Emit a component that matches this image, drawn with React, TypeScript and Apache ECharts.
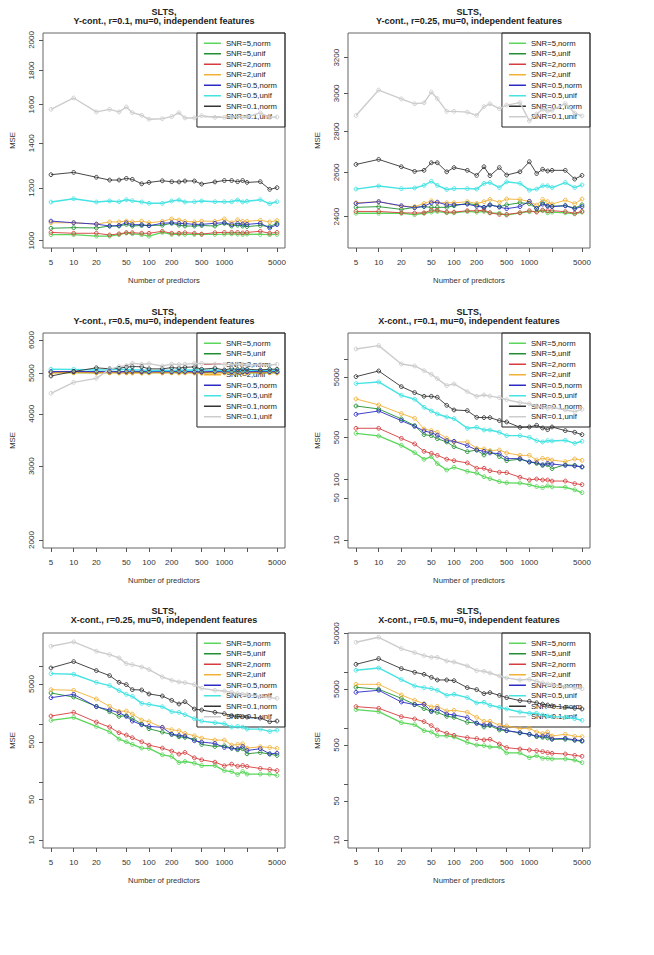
import React, { useEffect, useRef } from "react";
import * as echarts from "echarts";

// ---------- shared data ----------
const predictors = [5, 10, 20, 30, 40, 50, 60, 80, 100, 150, 200, 250, 300, 400, 500, 750, 1000, 1250, 1500, 1750, 2000, 3000, 4000, 5000];
const seriesNames = ["SNR=5,norm", "SNR=5,unif", "SNR=2,norm", "SNR=2,unif", "SNR=0.5,norm", "SNR=0.5,unif", "SNR=0.1,norm", "SNR=0.1,unif"];
const seriesColors = ["#5ad65a", "#1f8f2f", "#d63c3c", "#f2b134", "#2b2bc4", "#45e3e3", "#333333", "#cccccc"];
const lineWidths = [1.3, 0.9, 0.9, 0.9, 0.9, 1.4, 0.9, 1.4];

const xTicks = [5, 10, 20, 50, 100, 200, 500, 1000, 2000, 5000];
const xTickLabels = [5, 10, 20, 50, 100, 200, 500, 1000, 5000];

// ---------- panel 1: Y-cont., r=0.1 ----------
const p1Ticks = [1000, 1200, 1400, 1600, 1800, 2000];
const p1Labels = [1000, 1200, 1400, 1600, 1800, 2000];
const p1_snr5norm = [1021, 1021, 1016, 1016, 1021, 1027, 1024, 1021, 1016, 1029, 1022, 1023, 1022, 1022, 1022, 1022, 1023, 1024, 1023, 1022, 1023, 1022, 1021, 1022];
const p1_snr5unif = [1044, 1046, 1045, 1052, 1052, 1058, 1052, 1054, 1054, 1055, 1062, 1055, 1052, 1052, 1054, 1052, 1062, 1052, 1055, 1052, 1050, 1054, 1050, 1062];
const p1_snr2norm = [1029, 1026, 1026, 1020, 1024, 1028, 1028, 1026, 1026, 1033, 1026, 1026, 1028, 1026, 1023, 1028, 1029, 1029, 1029, 1027, 1029, 1033, 1026, 1029];
const p1_snr2unif = [1064, 1064, 1059, 1067, 1067, 1070, 1067, 1070, 1064, 1069, 1078, 1074, 1069, 1067, 1070, 1069, 1078, 1064, 1075, 1069, 1069, 1073, 1067, 1072];
const p1_snr05norm = [1070, 1064, 1059, 1052, 1054, 1064, 1057, 1057, 1053, 1062, 1064, 1062, 1061, 1058, 1058, 1062, 1064, 1057, 1061, 1059, 1058, 1062, 1045, 1057];
const p1_snr05unif = [1143, 1156, 1143, 1147, 1144, 1152, 1148, 1143, 1138, 1138, 1147, 1151, 1143, 1144, 1147, 1144, 1144, 1144, 1151, 1143, 1146, 1152, 1136, 1144];
const p1_snr01norm = [1256, 1266, 1245, 1233, 1233, 1240, 1236, 1217, 1223, 1230, 1226, 1225, 1229, 1229, 1216, 1225, 1231, 1231, 1226, 1231, 1223, 1226, 1194, 1201];
const p1_snr01unif = [1574, 1637, 1560, 1574, 1560, 1587, 1556, 1542, 1521, 1524, 1535, 1556, 1528, 1528, 1540, 1531, 1531, 1531, 1535, 1531, 1533, 1555, 1531, 1533];

// ---------- panel 2: Y-cont., r=0.25 ----------
const p2Ticks = [2400, 2600, 2800, 3000, 3200];
const p2Labels = [2400, 2600, 2800, 3000, 3200];
const p2_snr5norm = [2415, 2415, 2415, 2409, 2415, 2420, 2423, 2417, 2417, 2423, 2420, 2423, 2417, 2415, 2407, 2417, 2422, 2423, 2426, 2417, 2420, 2417, 2412, 2420];
const p2_snr5unif = [2441, 2444, 2432, 2441, 2444, 2441, 2441, 2441, 2448, 2458, 2452, 2441, 2451, 2444, 2452, 2461, 2457, 2436, 2461, 2448, 2446, 2448, 2438, 2452];
const p2_snr2norm = [2423, 2423, 2417, 2416, 2417, 2428, 2428, 2420, 2420, 2426, 2426, 2428, 2417, 2410, 2410, 2417, 2426, 2420, 2429, 2426, 2426, 2422, 2415, 2423];
const p2_snr2unif = [2461, 2466, 2446, 2444, 2458, 2470, 2461, 2461, 2461, 2466, 2458, 2466, 2476, 2464, 2478, 2476, 2466, 2451, 2476, 2466, 2455, 2473, 2457, 2478];
const p2_snr05norm = [2458, 2466, 2448, 2439, 2446, 2461, 2464, 2452, 2452, 2455, 2446, 2441, 2452, 2442, 2435, 2444, 2468, 2436, 2455, 2446, 2444, 2448, 2435, 2444];
const p2_snr05unif = [2523, 2537, 2525, 2528, 2540, 2559, 2540, 2521, 2525, 2525, 2523, 2549, 2553, 2530, 2556, 2549, 2518, 2523, 2538, 2538, 2530, 2553, 2530, 2542];
const p2_snr01norm = [2638, 2662, 2627, 2605, 2610, 2646, 2646, 2603, 2623, 2610, 2586, 2627, 2585, 2623, 2588, 2603, 2651, 2595, 2615, 2607, 2610, 2610, 2569, 2586];
const p2_snr01unif = [2882, 3018, 2970, 2944, 2949, 3007, 2972, 2904, 2904, 2900, 2883, 2929, 2944, 2918, 2937, 2950, 2854, 2890, 2915, 2905, 2910, 2945, 2895, 2880];

// ---------- panel 3: Y-cont., r=0.5 ----------
const p3Ticks = [2000, 3000, 4000, 5000, 6000];
const p3Labels = [2000, 3000, 4000, 5000, 6000];
const p3_snr5norm = [5015, 5015, 5010, 5020, 5015, 5015, 5020, 5015, 5010, 5020, 5015, 5020, 5015, 5015, 5010, 5015, 5015, 5010, 5015, 5010, 5015, 5010, 5015, 5010];
const p3_snr5unif = [5030, 5040, 5035, 5025, 5030, 5040, 5035, 5030, 5025, 5035, 5030, 5040, 5035, 5030, 5025, 5030, 5035, 5030, 5025, 5035, 5030, 5025, 5030, 5035];
const p3_snr2norm = [5025, 5030, 5020, 5025, 5030, 5020, 5025, 5030, 5025, 5020, 5025, 5030, 5025, 5020, 5025, 5030, 5020, 5025, 5030, 5025, 5020, 5025, 5030, 5025];
const p3_snr2unif = [5005, 5010, 5005, 5010, 5005, 5010, 5005, 5000, 5010, 5005, 5010, 5005, 5010, 5005, 5000, 5005, 5010, 5005, 5010, 5005, 5010, 5005, 5010, 5005];
const p3_snr05norm = [5045, 5050, 5045, 5055, 5040, 5050, 5060, 5045, 5040, 5050, 5045, 5055, 5050, 5040, 5035, 5050, 5045, 5040, 5055, 5045, 5040, 5050, 5045, 5040];
const p3_snr05unif = [5110, 5105, 5090, 5100, 5110, 5100, 5095, 5090, 5070, 5080, 5075, 5085, 5080, 5090, 5085, 5080, 5070, 5075, 5080, 5070, 5085, 5080, 5075, 5080];
const p3_snr01norm = [4924, 5046, 5150, 5120, 5138, 5170, 5185, 5180, 5120, 5120, 5155, 5140, 5165, 5175, 5110, 5140, 5090, 5130, 5100, 5120, 5110, 5090, 5110, 5110];
const p3_snr01unif = [4477, 4755, 4861, 5110, 5185, 5210, 5280, 5250, 5270, 5200, 5255, 5245, 5255, 5275, 5275, 5255, 5250, 5240, 5250, 5240, 5230, 5245, 5230, 5250];

// ---------- panel 4: X-cont., r=0.1 ----------
const p4Ticks = [10, 50, 100, 500, 1000, 5000, 10000];
const p4Labels = [10, 50, 100, 500, 5000];
const p4_snr5norm = [589, 532, 372, 281, 218, 241, 185, 145, 161, 138, 129, 112, 104, 93, 89, 88, 83, 77, 74, 79, 76, 75, 68, 61];
const p4_snr5unif = [1671, 1492, 1019, 789, 560, 538, 480, 423, 354, 292, 311, 257, 292, 242, 207, 219, 197, 187, 173, 177, 153, 177, 173, 163];
const p4_snr2norm = [713, 713, 486, 392, 296, 274, 254, 219, 207, 190, 155, 155, 141, 133, 131, 110, 99, 103, 99, 99, 95, 95, 86, 83];
const p4_snr2unif = [2188, 1739, 1248, 1045, 695, 652, 612, 486, 423, 423, 332, 324, 304, 311, 278, 254, 254, 212, 226, 219, 212, 199, 221, 210];
const p4_snr05norm = [1216, 1381, 955, 769, 644, 604, 546, 445, 434, 367, 311, 296, 278, 271, 224, 224, 197, 192, 177, 187, 182, 173, 169, 163];
const p4_snr05unif = [3930, 4190, 2514, 2160, 1590, 1381, 1232, 1098, 1031, 713, 741, 669, 669, 612, 538, 538, 505, 445, 423, 445, 439, 451, 402, 434];
const p4_snr01norm = [5130, 6370, 3500, 2785, 2420, 2420, 2330, 1715, 1435, 1400, 1085, 1072, 1072, 955, 908, 740, 750, 800, 722, 677, 750, 652, 612, 560];
const p4_snr01unif = [14750, 16770, 8318, 7710, 6450, 5610, 4755, 3640, 3880, 2894, 2420, 2546, 2440, 2300, 2132, 1900, 1820, 1673, 1590, 1530, 1590, 1437, 1347, 1473];

// ---------- panel 5: X-cont., r=0.25 ----------
const p5Ticks = [10, 50, 100, 500, 1000, 5000, 10000];
const p5Labels = [10, 50, 500, 5000];
const p5_snr5norm = [1173, 1322, 924, 746, 557, 500, 450, 389, 384, 298, 279, 219, 228, 213, 194, 194, 159, 153, 136, 153, 138, 138, 138, 131];
const p5_snr5unif = [3490, 2978, 2052, 1660, 1377, 1413, 1271, 1014, 841, 736, 671, 611, 596, 557, 450, 415, 426, 389, 364, 379, 310, 327, 306, 290];
const p5_snr2norm = [1396, 1616, 1097, 900, 717, 653, 588, 500, 438, 389, 345, 306, 327, 264, 244, 222, 192, 205, 189, 194, 187, 173, 166, 159];
const p5_snr2unif = [3990, 3890, 2750, 2052, 1680, 1702, 1510, 1189, 1112, 888, 809, 777, 698, 636, 579, 535, 535, 438, 448, 463, 389, 410, 399, 384];
const p5_snr05norm = [2898, 3315, 2024, 1773, 1593, 1377, 1142, 987, 924, 888, 679, 644, 628, 521, 494, 469, 399, 389, 379, 415, 354, 379, 310, 318];
const p5_snr05unif = [7570, 7370, 5350, 4690, 3840, 3315, 3060, 2313, 2222, 2024, 1660, 1616, 1472, 1254, 1142, 1069, 1028, 900, 924, 900, 830, 830, 756, 798];
const p5_snr01norm = [9480, 12220, 8530, 6980, 5350, 4880, 3990, 3940, 3360, 3100, 2606, 2252, 2470, 1845, 1773, 1616, 1532, 1413, 1380, 1360, 1340, 1288, 1112, 1142];
const p5_snr01unif = [22540, 26790, 18460, 16140, 14130, 11270, 10830, 9870, 8870, 6620, 5800, 5420, 5280, 4880, 4210, 3890, 3790, 3590, 3404, 3315, 3268, 3060, 2900, 2825];

// ---------- panel 6: X-cont., r=0.5 ----------
const p6Ticks = [10, 50, 100, 500, 1000, 5000, 10000, 50000];
const p6Labels = [10, 50, 500, 5000, 50000];
const p6_snr5norm = [2153, 1982, 1259, 1159, 906, 858, 738, 728, 698, 560, 501, 488, 462, 462, 361, 361, 298, 324, 290, 290, 282, 282, 270, 242];
const p6_snr5unif = [5410, 4980, 3436, 2681, 2243, 2010, 1929, 1636, 1570, 1278, 1242, 1054, 1114, 931, 906, 823, 779, 708, 689, 670, 634, 634, 608, 584];
const p6_snr2norm = [2437, 2277, 1614, 1466, 1313, 1114, 931, 811, 747, 679, 651, 617, 634, 522, 449, 425, 408, 397, 381, 366, 356, 346, 327, 315];
const p6_snr2unif = [6110, 6110, 3935, 3160, 2755, 2403, 2470, 2040, 2096, 1929, 1570, 1331, 1331, 1129, 1099, 985, 998, 858, 800, 858, 728, 779, 718, 708];
const p6_snr05norm = [4396, 4775, 2952, 2643, 2681, 2010, 2243, 1800, 1727, 1549, 1225, 1144, 1159, 998, 906, 834, 779, 728, 718, 738, 643, 661, 617, 600];
const p6_snr05unif = [10890, 11990, 7410, 5710, 5330, 5120, 4780, 3880, 4050, 3530, 2833, 2912, 2574, 2370, 2214, 1955, 1850, 1850, 1720, 1660, 1614, 1580, 1485, 1387];
const p6_snr01norm = [13930, 17610, 11670, 10030, 9230, 8160, 7310, 7310, 7110, 5330, 4910, 4160, 4340, 3880, 3530, 3120, 3030, 2850, 2700, 2600, 2510, 2370, 2280, 2210];
const p6_snr01unif = [34500, 42460, 26610, 22560, 19940, 18620, 18620, 16000, 15350, 13020, 10740, 10450, 9750, 8600, 7940, 7310, 7520, 6900, 6500, 6200, 6000, 5600, 5300, 5100];

const titles = [
  "SLTS,\nY-cont., r=0.1, mu=0, independent features",
  "SLTS,\nY-cont., r=0.25, mu=0, independent features",
  "SLTS,\nY-cont., r=0.5, mu=0, independent features",
  "SLTS,\nX-cont., r=0.1, mu=0, independent features",
  "SLTS,\nX-cont., r=0.25, mu=0, independent features",
  "SLTS,\nX-cont., r=0.5, mu=0, independent features",
];

// ---------- layout (log10 axis extents) ----------
const panels = [
  { data: [p1_snr5norm, p1_snr5unif, p1_snr2norm, p1_snr2unif, p1_snr05norm, p1_snr05unif, p1_snr01norm, p1_snr01unif], ticks: p1Ticks, labels: p1Labels, yMin: 2.98905, yMax: 3.3115 },
  { data: [p2_snr5norm, p2_snr5unif, p2_snr2norm, p2_snr2unif, p2_snr05norm, p2_snr05unif, p2_snr01norm, p2_snr01unif], ticks: p2Ticks, labels: p2Labels, yMin: 3.35561, yMax: 3.52456 },
  { data: [p3_snr5norm, p3_snr5unif, p3_snr2norm, p3_snr2unif, p3_snr05norm, p3_snr05unif, p3_snr01norm, p3_snr01unif], ticks: p3Ticks, labels: p3Labels, yMin: 3.28195, yMax: 3.79485 },
  { data: [p4_snr5norm, p4_snr5unif, p4_snr2norm, p4_snr2unif, p4_snr05norm, p4_snr05unif, p4_snr01norm, p4_snr01unif], ticks: p4Ticks, labels: p4Labels, yMin: 0.8673, yMax: 4.4339 },
  { data: [p5_snr5norm, p5_snr5unif, p5_snr2norm, p5_snr2unif, p5_snr05norm, p5_snr05unif, p5_snr01norm, p5_snr01unif], ticks: p5Ticks, labels: p5Labels, yMin: 0.8616, yMax: 4.5814 },
  { data: [p6_snr5norm, p6_snr5unif, p6_snr2norm, p6_snr2unif, p6_snr05norm, p6_snr05unif, p6_snr01norm, p6_snr01unif], ticks: p6Ticks, labels: p6Labels, yMin: 0.8568, yMax: 4.7044 },
];

const FONT = "'Liberation Sans', Arial, sans-serif";
const W = 654;
const H = 955;
const gridLefts = [43, 348];
const gridTops = [33, 333, 633];
const titleTops = [8, 308, 607];
const GW = 242;
const GH = 215;
const xExt = 0.1062;
const xMin = Math.log10(5) - xExt;
const xMax = Math.log10(5000) + xExt;
const lg = (v: number) => Math.log10(v);
const fmt = (v: number) => String(Math.round(Math.pow(10, v)));

function buildOption() {
  const grid: any[] = [];
  const xAxis: any[] = [];
  const yAxis: any[] = [];
  const title: any[] = [];
  const legend: any[] = [];
  const series: any[] = [];
  panels.forEach((p, i) => {
    const col = i % 2;
    const row = Math.floor(i / 2);
    grid.push({
      left: gridLefts[col], top: gridTops[row], width: GW, height: GH,
      show: true, borderColor: "#666", borderWidth: 1, backgroundColor: "transparent",
    });
    xAxis.push({
      gridIndex: i, type: "value", min: xMin, max: xMax,
      splitLine: { show: false }, axisLine: { show: false },
      axisTick: { show: true, length: 4, lineStyle: { color: "#555" }, customValues: xTicks.map(lg) },
      axisLabel: { customValues: xTickLabels.map(lg), formatter: fmt, margin: 10, fontSize: 8, color: "#333", fontFamily: FONT },
      name: "Number of predictors", nameLocation: "middle", nameGap: 28,
      nameTextStyle: { fontSize: 7.7, color: "#333", fontFamily: FONT },
    });
    yAxis.push({
      gridIndex: i, type: "value", min: p.yMin, max: p.yMax,
      splitLine: { show: false }, axisLine: { show: false },
      axisTick: { show: true, length: 4, lineStyle: { color: "#555" }, customValues: p.ticks.map(lg) },
      axisLabel: { customValues: p.labels.map(lg), formatter: fmt, rotate: 90, margin: 8, fontSize: 8, color: "#333", fontFamily: FONT },
      name: "MSE", nameLocation: "middle", nameGap: 27,
      nameTextStyle: { fontSize: 7.7, color: "#333", fontFamily: FONT },
    });
    title.push({
      text: titles[i], left: gridLefts[col] + GW / 2, top: titleTops[row],
      textAlign: "center", textVerticalAlign: "top", padding: 0,
      textStyle: { fontSize: 9, fontWeight: "bold", lineHeight: 8.7, color: "#222", fontFamily: FONT },
    });
    legend.push({
      orient: "vertical", right: W - (gridLefts[col] + GW), top: gridTops[row],
      data: seriesNames.map((n, k) => ({ name: n, icon: "rect", itemStyle: { color: seriesColors[k], borderWidth: 0 } })),
      itemWidth: 17, itemHeight: 1.5, itemGap: 0, padding: [5, 8, 5, 7],
      borderColor: "#222", borderWidth: 1, borderRadius: 0, backgroundColor: "transparent",
      itemStyle: { borderWidth: 0 },
      textStyle: { fontSize: 7.7, lineHeight: 10.5, color: "#222", fontFamily: FONT },
      selectedMode: false, z: 1,
    });
    p.data.forEach((vals, k) => {
      series.push({
        type: "line", name: seriesNames[k], xAxisIndex: i, yAxisIndex: i,
        data: predictors.map((x, j) => [lg(x), lg(vals[j])]),
        symbol: "circle", symbolSize: 3.8,
        itemStyle: { color: "rgba(255,255,255,0)", borderColor: seriesColors[k], borderWidth: 0.9 },
        lineStyle: { color: seriesColors[k], width: lineWidths[k] },
        z: 2, silent: true, emphasis: { disabled: true },
      });
    });
  });
  return { animation: false, backgroundColor: "#fff", grid, xAxis, yAxis, title, legend, series };
}

export default function App() {
  const ref = useRef<HTMLDivElement>(null);
  useEffect(() => {
    if (!ref.current) return;
    const chart = echarts.init(ref.current, undefined, { renderer: "svg" });
    chart.setOption(buildOption() as any);
    return () => chart.dispose();
  }, []);
  return <div ref={ref} style={{ position: "fixed", left: 0, top: 0, width: W, height: H }} />;
}
